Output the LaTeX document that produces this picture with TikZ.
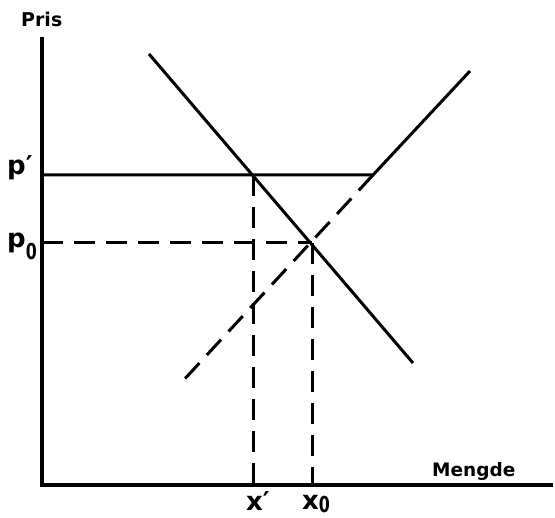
\documentclass[tikz,border=0pt]{standalone}
\usepackage{fontspec}
\setmainfont{DejaVu Sans}
\newcommand{\narrowsub}[2]{\raisebox{-#1pt}{\fontsize{22}{22}\selectfont\scalebox{0.72}[1]{#2}}}
\begin{document}
\begin{tikzpicture}[x=1pt,y=-1pt,
  axis/.style={line width=3.2pt},
  curve/.style={line width=3pt},
  dash line/.style={line width=3pt, dash pattern=on 21pt off 11pt},
  lab/.style={inner sep=0pt, anchor=base west, font=\bfseries\fontsize{26}{26}\selectfont}]
\useasboundingbox (0,0) rectangle (555,518);
% axes
\coordinate (O) at (42,485);
\coordinate (ytop) at (42,37);
\coordinate (xend) at (553,485);
\draw[axis] (ytop) -- (O) -- (xend);
% key points
\coordinate (pl) at (42,175);
\coordinate (p0l) at (42,243);
\coordinate (A) at (253,175);
\coordinate (E) at (312,243);
\coordinate (K) at (373,175);
\coordinate (Sd) at (181,383);
\coordinate (St) at (470,71);
\coordinate (Dt) at (149,54);
\coordinate (Db) at (413,363);
\coordinate (xa) at (253,485);
\coordinate (xb) at (312,485);
% demand
\draw[curve] (Dt) -- (Db);
% supply
\draw[curve] (pl) -- (K) -- (St);
\draw[dash line] (K) -- (Sd);
% dashed guides
\draw[dash line] (p0l) -- (E);
\draw[dash line] (A) -- (xa);
\draw[dash line] (E) -- (xb);
% labels
\node[lab, font=\bfseries\fontsize{19}{19}\selectfont] (pris) at (21,27) {Pris};
\node[lab] (pp) at (7,175) {p′};
\node[lab] (p0) at (7,248) {p\narrowsub{12}{0}};
\node[lab] (xp) at (246,511) {x′};
\node[lab] (x0) at (302,510) {x\narrowsub{3}{0}};
\node[lab, font=\bfseries\fontsize{18.5}{18.5}\selectfont] (mengde) at (432,477) {Mengde};
\end{tikzpicture}
\end{document}
